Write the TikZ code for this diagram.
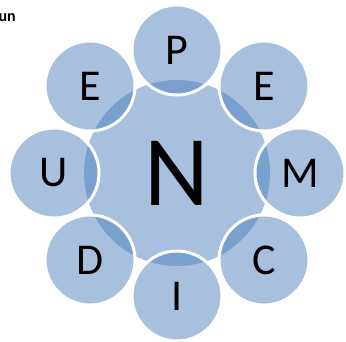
\documentclass[tikz,border=0pt]{standalone}
\usepackage{fontspec}
\setmainfont{Carlito}
\definecolor{accent}{HTML}{4F81BD}
\tikzset{
  hub/.style={circle,fill=accent,fill opacity=0.5,text opacity=1,inner sep=0pt,minimum size=186pt,font=\fontsize{100}{100}\selectfont},
  petal/.style={circle,fill=accent,fill opacity=0.5,text opacity=1,draw=white,draw opacity=1,line width=3pt,inner sep=0pt,minimum size=90pt,font=\fontsize{44}{44}\selectfont}
}
\begin{document}
\begin{tikzpicture}[x=1pt,y=1pt]
\useasboundingbox (0,0) rectangle (346,342);
\node (N) at (177, 169) [hub] {N};

\node (P) at (177, 292) [petal] {P};
\node (E2) at (264, 256) [petal] {E};
\node (M) at (300, 169) [petal] {M};
\node (C) at (264, 82) [petal] {C};
\node (I) at (177, 46) [petal] {I};
\node (D) at (90, 82) [petal] {D};
\node (U) at (54, 169) [petal] {U};
\node (E1) at (90, 256) [petal] {E};

\node (cap) at (16, 320) [anchor=base east,inner sep=0pt,font=\fontsize{16}{16}\selectfont\bfseries] {un};
\end{tikzpicture}
\end{document}
